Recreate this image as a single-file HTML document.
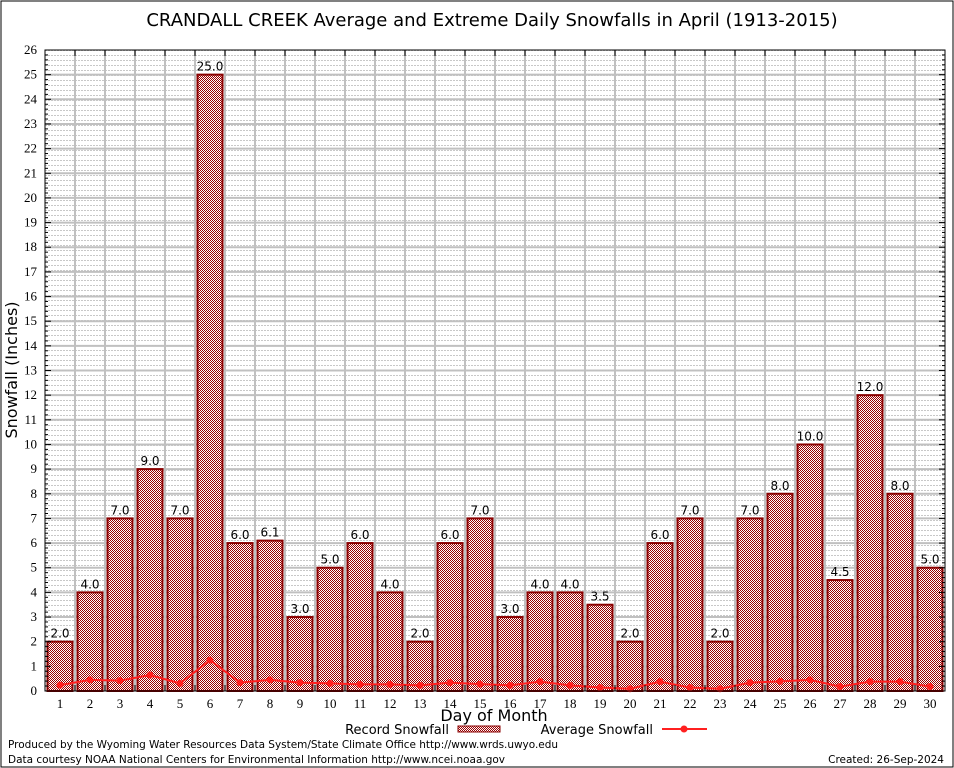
<!DOCTYPE html>
<html><head><meta charset="utf-8"><style>
body{margin:0;background:#fff;}
svg{display:block;}
.tk{font-family:"Liberation Serif",serif;font-size:13px;fill:#000;}
.vl{font-family:"DejaVu Sans","Liberation Sans",sans-serif;font-size:12px;fill:#000;}
.sn{font-family:"DejaVu Sans","Liberation Sans",sans-serif;fill:#000;}
</style></head><body>
<svg id="chart" width="954" height="768">
<defs>
<pattern id="chk" width="2" height="2" patternUnits="userSpaceOnUse">
<rect width="2" height="2" fill="#fff"/><rect width="1" height="1" fill="#9a0000"/><rect x="1" y="1" width="1" height="1" fill="#9a0000"/>
</pattern>
<pattern id="grd" width="3" height="5" patternUnits="userSpaceOnUse">
<rect width="3" height="5" fill="#fff"/><rect width="2" height="1" fill="#c8c8c8"/>
</pattern>
</defs>
<rect x="1" y="1" width="952" height="766" fill="#fff" stroke="#000"/>
<text class="sn" x="492" y="26" font-size="18" text-anchor="middle">CRANDALL CREEK Average and Extreme Daily Snowfalls in April (1913-2015)</text>
<rect x="45" y="50" width="900" height="641" fill="url(#grd)"/>
<g id="grid"></g>
<g id="bars"></g>
<g id="avg"></g>
<rect x="45" y="50" width="900" height="641" fill="none" stroke="#000"/>
<g id="axes"></g>
<text class="sn" x="17" y="370" font-size="16" text-anchor="middle" transform="rotate(-90 17 370)">Snowfall (Inches)</text>
<text class="sn" x="494" y="721" font-size="16" text-anchor="middle">Day of Month</text>
<g>
<text class="sn" x="449" y="734" font-size="13" text-anchor="end">Record Snowfall</text>
<rect x="458" y="726" width="42" height="6" fill="url(#chk)" stroke="#8b0000"/>
<text class="sn" x="653" y="734" font-size="13" text-anchor="end">Average Snowfall</text>
<line x1="662" y1="729" x2="707" y2="729" stroke="#ff2020" stroke-width="2"/>
<circle cx="684" cy="729" r="3.5" fill="#ff2020"/>
</g>
<text class="sn" x="8" y="748" font-size="10.5" textLength="550">Produced by the Wyoming Water Resources Data System/State Climate Office http://www.wrds.uwyo.edu</text>
<text class="sn" x="8" y="763" font-size="10.5" textLength="497">Data courtesy NOAA National Centers for Environmental Information http://www.ncei.noaa.gov</text>
<text class="sn" x="944" y="763" font-size="10.5" text-anchor="end">Created: 26-Sep-2024</text>
</svg>
<script>
const days = [1,2,3,4,5,6,7,8,9,10,11,12,13,14,15,16,17,18,19,20,21,22,23,24,25,26,27,28,29,30];
const recordSnow = [2.0,4.0,7.0,9.0,7.0,25.0,6.0,6.1,3.0,5.0,6.0,4.0,2.0,6.0,7.0,3.0,4.0,4.0,3.5,2.0,6.0,7.0,2.0,7.0,8.0,10.0,4.5,12.0,8.0,5.0];
const avgSnow = [0.24,0.45,0.42,0.65,0.31,1.25,0.34,0.45,0.34,0.31,0.27,0.27,0.23,0.34,0.28,0.23,0.38,0.23,0.14,0.09,0.38,0.14,0.09,0.34,0.39,0.45,0.18,0.38,0.38,0.18];
const yTicks = [0,1,2,3,4,5,6,7,8,9,10,11,12,13,14,15,16,17,18,19,20,21,22,23,24,25,26];
const NS="http://www.w3.org/2000/svg";
const X0=45,X1=945,Y0=691,Y1=50,YMAX=26;
const xs=d=>X0+(X1-X0)/days.length*(d-0.5);
const ys=v=>Y0-(Y0-Y1)*v/YMAX;
function mk(tag,attrs,parent){const e=document.createElementNS(NS,tag);for(const k in attrs)e.setAttribute(k,attrs[k]);parent.appendChild(e);return e;}
const grid=document.getElementById('grid'),bars=document.getElementById('bars'),avg=document.getElementById('avg'),axes=document.getElementById('axes');
yTicks.forEach(t=>{
  const y=ys(t);
  if(t>0&&t<YMAX){const l=mk('line',{x1:X0,x2:X1,y1:y,y2:y,stroke:'#c0c0c0','stroke-width':2},grid);
  
  }
  const tx=mk('text',{x:X0-8,y:y+4,'text-anchor':'end',class:'tk'},axes);tx.textContent=t;
  
  
  if(t<YMAX){for(let m=1;m<5;m++){const yy=ys(t+m*0.2);
    mk('line',{x1:X0,x2:X0+3,y1:yy,y2:yy,stroke:'#000'},axes);
    mk('line',{x1:X1-3,x2:X1,y1:yy,y2:yy,stroke:'#000'},axes);}}
  mk('line',{x1:X0,x2:X0+6,y1:y,y2:y,stroke:'#000'},axes);
  mk('line',{x1:X1-6,x2:X1,y1:y,y2:y,stroke:'#000'},axes);
});
days.forEach((d,i)=>{
  const bx=X0+(X1-X0)/days.length*d;
  if(i<days.length-1){const l=mk('line',{x1:bx,x2:bx,y1:Y1,y2:Y0,stroke:'#c0c0c0','stroke-width':2},grid);
  
  
  mk('line',{x1:bx,x2:bx,y1:Y1,y2:Y1+6,stroke:'#000'},axes);
  mk('line',{x1:bx,x2:bx,y1:Y0-6,y2:Y0,stroke:'#000'},axes);}
  const cx=xs(d),v=recordSnow[i];
  const r=mk('rect',{x:cx-12.5,y:ys(v),width:25,height:Y0-ys(v),fill:'url(#chk)',stroke:'#8b0000','stroke-width':2},bars);
  
  
  const lb=mk('text',{x:cx,y:ys(v)-4,'text-anchor':'middle',class:'vl'},bars);lb.textContent=v.toFixed(1);
  
  
  const xt=mk('text',{x:cx,y:Y0+17,'text-anchor':'middle',class:'tk'},axes);xt.textContent=d;
  
  
});
const pl=mk('polyline',{points:days.map((d,i)=>xs(d)+','+ys(avgSnow[i])).join(' '),fill:'none',stroke:'#ff2020','stroke-width':2},avg);


days.forEach((d,i)=>{const c=mk('circle',{cx:xs(d),cy:ys(avgSnow[i]),r:3.5,fill:'#ff2020'},avg);
  
  });
</script>
</body></html>
